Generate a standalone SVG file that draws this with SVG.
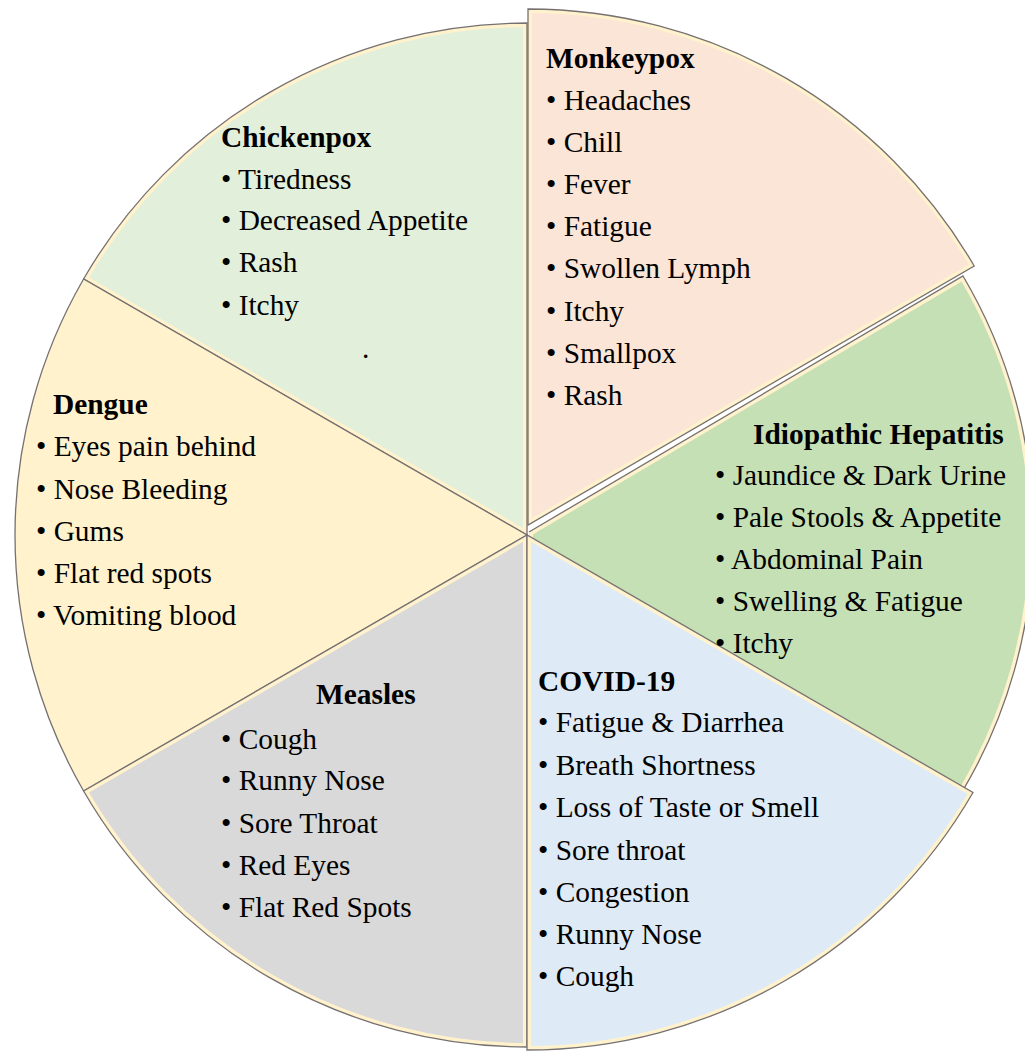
<svg xmlns="http://www.w3.org/2000/svg" xmlns:xlink="http://www.w3.org/1999/xlink" width="1025" height="1053" viewBox="0 0 1025 1053">
<style>
.band{fill:none;stroke:#FFF2CC;stroke-width:8}
.edge{fill:none;stroke:#767171;stroke-width:1.3}
text{font-family:"Liberation Serif","Times New Roman",serif;font-size:29.4px;fill:#000}
.t{font-weight:bold}
</style>
<defs>
<path id="pChicken" d="M527,535 L527,23 A512,512 0 0,0 83.6,279 Z"/>
<path id="pDengue" d="M527,535 L83.6,279 A512,512 0 0,0 83.6,791 Z"/>
<path id="pMeasles" d="M527,535 L83.6,791 A512,512 0 0,0 527,1047 Z"/>
<path id="pHep" d="M529,532 L963,276 A505,505 0 0,1 961.9,792.1 L529,540 Z"/>
<path id="pHepEdge" d="M961.9,792.1 A505,505 0 0,0 963,276 L529,532"/>
<path id="pCovid" d="M527,535 L527,1050 A515,515 0 0,0 973,792.5 Z"/>
<path id="pMonkey" d="M528,525 L528,9 A516,516 0 0,1 974.2,266 Z"/>
<clipPath id="cChicken"><use xlink:href="#pChicken"/></clipPath>
<clipPath id="cMeasles"><use xlink:href="#pMeasles"/></clipPath>
<clipPath id="cHep"><use xlink:href="#pHep"/></clipPath>
<clipPath id="cCovid"><use xlink:href="#pCovid"/></clipPath>
<clipPath id="cMonkey"><use xlink:href="#pMonkey"/></clipPath>
</defs>
<rect width="1025" height="1053" fill="#fff"/>

<g id="chickenpox">
<use xlink:href="#pChicken" fill="#E2EFDA"/>
<use xlink:href="#pChicken" class="band" clip-path="url(#cChicken)"/>
<use xlink:href="#pChicken" class="edge"/>
<text class="t" x="221" y="147">Chickenpox</text>
<text x="221" y="189">• Tiredness</text>
<text x="221" y="230">• Decreased Appetite</text>
<text x="221" y="272">• Rash</text>
<text x="221" y="315">• Itchy</text>
<text x="362" y="358">.</text>
</g>

<g id="dengue">
<use xlink:href="#pDengue" fill="#FFF2CC"/>
<use xlink:href="#pDengue" class="edge"/>
<text class="t" x="53" y="414">Dengue</text>
<text x="36" y="456">• Eyes pain behind</text>
<text x="36" y="499">• Nose Bleeding</text>
<text x="36" y="541">• Gums</text>
<text x="36" y="583">• Flat red spots</text>
<text x="36" y="625">• Vomiting blood</text>
</g>

<g id="measles">
<use xlink:href="#pMeasles" fill="#D9D9D9"/>
<use xlink:href="#pMeasles" class="band" clip-path="url(#cMeasles)"/>
<use xlink:href="#pMeasles" class="edge"/>
<text class="t" x="316" y="704">Measles</text>
<text x="221" y="749">• Cough</text>
<text x="221" y="790">• Runny Nose</text>
<text x="221" y="833">• Sore Throat</text>
<text x="221" y="875">• Red Eyes</text>
<text x="221" y="917">• Flat Red Spots</text>
</g>

<g id="idiopathic-hepatitis">
<use xlink:href="#pHep" fill="#C5E0B4"/>
<use xlink:href="#pHep" class="band" clip-path="url(#cHep)"/>
<use xlink:href="#pHepEdge" class="edge"/>
<text class="t" x="753" y="444">Idiopathic Hepatitis</text>
<text x="715" y="485">• Jaundice &amp; Dark Urine</text>
<text x="715" y="527">• Pale Stools &amp; Appetite</text>
<text x="715" y="569">• Abdominal Pain</text>
<text x="715" y="611">• Swelling &amp; Fatigue</text>
</g>

<g id="covid-19">
<use xlink:href="#pCovid" fill="#DEEBF7"/>
<use xlink:href="#pCovid" class="band" clip-path="url(#cCovid)"/>
<use xlink:href="#pCovid" class="edge"/>
<text class="t" x="538" y="691">COVID-19</text>
<text x="538" y="732">• Fatigue &amp; Diarrhea</text>
<text x="538" y="775">• Breath Shortness</text>
<text x="538" y="817">• Loss of Taste or Smell</text>
<text x="538" y="860">• Sore throat</text>
<text x="538" y="902">• Congestion</text>
<text x="538" y="944">• Runny Nose</text>
<text x="538" y="986">• Cough</text>
</g>

<text x="715" y="653">• Itchy</text>

<g id="monkeypox">
<use xlink:href="#pMonkey" fill="#FBE5D6"/>
<use xlink:href="#pMonkey" class="band" clip-path="url(#cMonkey)"/>
<use xlink:href="#pMonkey" class="edge"/>
<text class="t" x="546" y="68">Monkeypox</text>
<text x="546" y="110">• Headaches</text>
<text x="546" y="152">• Chill</text>
<text x="546" y="194">• Fever</text>
<text x="546" y="236">• Fatigue</text>
<text x="546" y="278">• Swollen Lymph</text>
<text x="546" y="321">• Itchy</text>
<text x="546" y="363">• Smallpox</text>
<text x="546" y="405">• Rash</text>
</g>

<g id="connectors"></g>
</svg>
